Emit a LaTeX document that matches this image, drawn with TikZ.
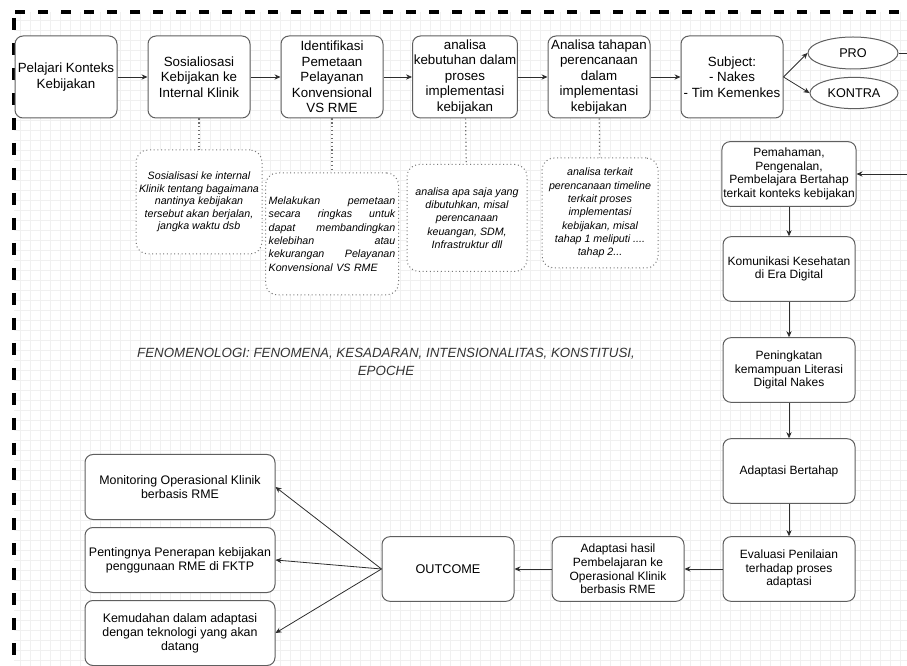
\documentclass[tikz,border=0pt]{standalone}
\usepackage{fontspec}
\setmainfont{Liberation Sans}
\usetikzlibrary{arrows.meta,shapes.geometric}

\newcommand\jfill{\hspace{0pt plus 1filll}}

\tikzset{every picture/.style={line width=0.75pt}}
\tikzset{
  flowbox/.style={draw={rgb, 255:red, 95; green, 95; blue, 95}, fill=white, rounded corners=6pt,
    align=center, inner sep=1pt, minimum width=76.5pt, minimum height=61.5pt,
    font=\fontsize{10}{11.6}\selectfont},
  sidebox/.style={flowbox, minimum width=99pt, minimum height=48.5pt, font=\fontsize{9}{10.2}\selectfont},
  outbox/.style={flowbox, minimum width=142.5pt, minimum height=48.75pt, font=\fontsize{9.3}{10.6}\selectfont},
  notebox/.style={draw={rgb, 255:red, 120; green, 120; blue, 120}, dotted, fill=white, rounded corners=9pt,
    align=center, inner sep=1pt, font=\fontsize{8}{10}\selectfont\itshape},
  oval/.style={draw={rgb, 255:red, 95; green, 95; blue, 95}, fill=white, ellipse, inner sep=0pt,
    font=\fontsize{9.5}{11}\selectfont},
  arr/.style={draw={rgb, 255:red, 45; green, 45; blue, 45}, line width=0.6pt, -{Stealth[length=4.5pt,width=4pt]}},
  dotline/.style={draw={rgb, 255:red, 110; green, 110; blue, 110}, dotted, line width=0.9pt},
}

\begin{document}
\begin{tikzpicture}[x=0.75pt,y=0.75pt,yscale=-1,xscale=1]
\useasboundingbox (0,0) rectangle (907,666);

%Grid
\draw [draw=gray!12, line width=0.3pt, step=7.5pt] (14,12) grid (907,666);
%Dashed frame
\draw [line width=2.4pt, dash pattern=on 7.5pt off 9.75pt] (15,12) -- (907,12);
\draw [line width=2.6pt, dash pattern=on 9pt off 9.75pt] (14,18) -- (14,666);

%Top row
\node [flowbox] (pelajari) at (66,77) {Pelajari Konteks\\Kebijakan};
\node [flowbox] (sosial) at (199,77) {Sosialiosasi\\Kebijakan ke\\Internal Klinik};
\node [flowbox] (identi) at (332,77) {Identifikasi\\Pemetaan\\Pelayanan\\Konvensional\\VS RME};
\node [flowbox] (kebutuhan) at (465,77) {analisa\\kebutuhan dalam\\proses\\implementasi\\kebijakan};
\node [flowbox] (tahapan) at (599,77) {Analisa tahapan\\perencanaan\\dalam\\implementasi\\kebijakan};
\node [flowbox] (subject) at (732,77) {Subject:\\- Nakes\\- Tim Kemenkes};
\node [oval, minimum width=67.5pt, minimum height=24pt] (pro) at (853,53) {PRO};
\node [oval, minimum width=66pt, minimum height=23.5pt] (kontra) at (854,93) {KONTRA};

\draw [arr] (pelajari) -- (sosial);
\draw [arr] (sosial) -- (identi);
\draw [arr] (identi) -- (kebutuhan);
\draw [arr] (kebutuhan) -- (tahapan);
\draw [arr] (tahapan) -- (subject);
\draw [arr] (subject.east) -- (pro.west);
\draw [arr] (subject.east) -- (kontra.west);

%Notes
\node [notebox, minimum width=94.5pt, minimum height=78pt, font=\fontsize{8}{9.3}\selectfont\itshape] (note1) at (199,202)
  {Sosialisasi ke internal\\Klinik tentang bagaimana\\nantinya kebijakan\\tersebut akan berjalan,\\jangka waktu dsb};
\node [notebox, minimum width=99.75pt, minimum height=91.5pt, text width=95pt, align=left] (note2) at (332,234)
  {Melakukan\jfill pemetaan\\secara\jfill ringkas\jfill untuk\\dapat\jfill membandingkan\\kelebihan\jfill atau\\kekurangan\jfill Pelayanan\\Konvensional VS RME};
\node [notebox, minimum width=90pt, minimum height=80.25pt] (note3) at (467,218)
  {analisa apa saja yang\\dibutuhkan, misal\\perencanaan\\keuangan, SDM,\\Infrastruktur dll};
\node [notebox, minimum width=87pt, minimum height=82.5pt] (note4) at (600,213)
  {analisa terkait\\perencanaan timeline\\terkait proses\\implementasi\\kebijakan, misal\\tahap 1 meliputi ....\\tahap 2...};

\draw [dotline] (sosial) -- (note1);
\draw [dotline] (identi) -- (note2);
\draw [dotline] (kebutuhan) -- (note3);
\draw [dotline] (tahapan) -- (note4);

% Text Node
\node [align=center, inner sep=0.75pt, text=black!80, font=\fontsize{10}{14}\selectfont\itshape] (fenomena) at (386,362)
  {FENOMENOLOGI: FENOMENA, KESADARAN, INTENSIONALITAS, KONSTITUSI,\\EPOCHE};

%Right column
\node [sidebox] (pemahaman) at (789,174) {Pemahaman,\\Pengenalan,\\Pembelajara Bertahap\\terkait konteks kebijakan};
\node [sidebox] (komunikasi) at (789,269) {Komunikasi Kesehatan\\di Era Digital};
\node [sidebox] (literasi) at (789,370) {Peningkatan\\kemampuan Literasi\\Digital Nakes};
\node [sidebox] (adaptasi) at (789,471) {Adaptasi Bertahap};
\node [sidebox] (evaluasi) at (789,569) {Evaluasi Penilaian\\terhadap proses\\adaptasi};

%connector leaves the page on the right
\coordinate (rightedge) at (918,0);
\draw [arr] (pro.east) -- (pro.east -| rightedge) |- (pemahaman.east);
\draw [arr] (pemahaman) -- (komunikasi);
\draw [arr] (komunikasi) -- (literasi);
\draw [arr] (literasi) -- (adaptasi);
\draw [arr] (adaptasi) -- (evaluasi);

%Bottom row
\node [sidebox] (hasil) at (618,569) {Adaptasi hasil\\Pembelajaran ke\\Operasional Klinik\\berbasis RME};
\node [sidebox, font=\fontsize{9.5}{11}\selectfont] (outcome) at (448,569) {OUTCOME};
\node [outbox] (monitoring) at (180,487) {Monitoring Operasional Klinik\\berbasis RME};
\node [outbox] (penting) at (180,560) {Pentingnya Penerapan kebijakan\\penggunaan RME di FKTP};
\node [outbox] (kemudahan) at (180,633) {Kemudahan dalam adaptasi\\dengan teknologi yang akan\\datang};

\draw [arr] (evaluasi) -- (hasil);
\draw [arr] (hasil) -- (outcome);
\draw [arr] (outcome.west) -- (monitoring.east);
\draw [arr] (outcome.west) -- (penting.east);
\draw [arr] (outcome.west) -- (kemudahan.east);
\end{tikzpicture}
\end{document}
